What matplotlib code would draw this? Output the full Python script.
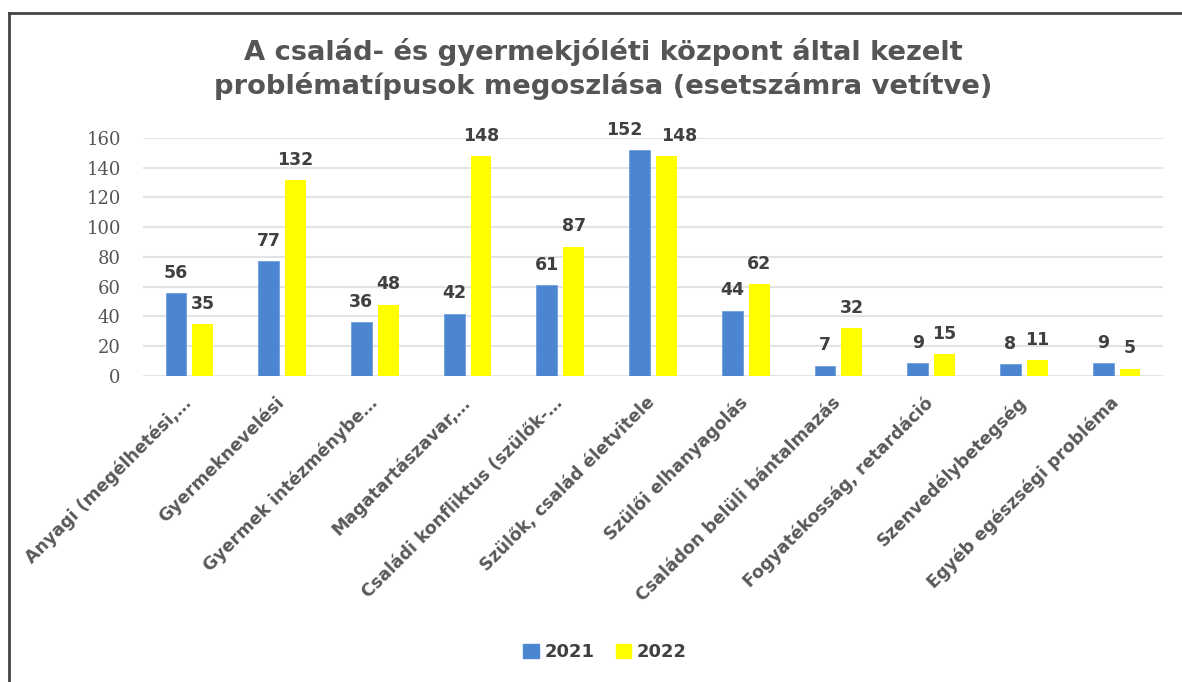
import matplotlib
matplotlib.use("Agg")
import matplotlib.pyplot as plt
import matplotlib.transforms as mtransforms
import numpy as np
from matplotlib.lines import Line2D

categories = [
    "Anyagi (megélhetési,…",
    "Gyermeknevelési",
    "Gyermek intézménybe…",
    "Magatartászavar,…",
    "Családi konfliktus (szülők-…",
    "Szülők, család életvitele",
    "Szülői elhanyagolás",
    "Családon belüli bántalmazás",
    "Fogyatékosság, retardáció",
    "Szenvedélybetegség",
    "Egyéb egészségi probléma",
]
v2021 = [56, 77, 36, 42, 61, 152, 44, 7, 9, 8, 9]
v2022 = [35, 132, 48, 148, 87, 148, 62, 32, 15, 11, 5]
yticks = [0, 20, 40, 60, 80, 100, 120, 140, 160]

blue = "#4C86D1"
yellow = "#FFFF00"
txt = "#404040"

fig = plt.figure(figsize=(11.82, 6.82), dpi=100)
ax = fig.add_axes([143/1182, 1 - 376/682, (1163-143)/1182, (376-138)/682])

x = np.arange(len(categories))
w = 0.225
gap = 0.032
b1 = ax.bar(x - w/2 - gap, v2021, w, color=blue, edgecolor="#6F9FDD", linewidth=0.6, label="2021", zorder=3)
b2 = ax.bar(x + w/2 + gap, v2022, w, color=yellow, label="2022", zorder=3)

# nudge labels apart where two equal-ish bars sit side by side (as Excel does)
for i, (r1, r2, a, b) in enumerate(zip(b1, b2, v2021, v2022)):
    dx1, dx2 = 0, 0
    if abs(a - b) < 8 and a > 20:
        dx1, dx2 = -11, 9
    for r, v, dx in ((r1, a, dx1), (r2, b, dx2)):
        ax.annotate(str(v), (r.get_x() + r.get_width()/2, v), xytext=(dx, 8),
                    textcoords="offset points", ha="center", va="bottom",
                    fontsize=12.5, fontweight="bold", color=txt)

ax.set_xlim(-0.5, len(categories) - 0.5)
ax.set_ylim(0, 160)
ax.set_yticks(yticks)
ax.set_yticklabels([str(t) for t in yticks], family="DejaVu Serif", fontsize=13, color="#555555")
ax.tick_params(axis="y", length=0, pad=16)
ax.tick_params(axis="x", length=0, pad=4)
ax.set_xticks(x)
ax.set_xticklabels(categories, rotation=45, ha="right", rotation_mode="anchor",
                   fontsize=12.5, fontweight="bold", color="#595959")
shift = mtransforms.ScaledTranslation(-7/100, -12/100, fig.dpi_scale_trans)
for lbl in ax.get_xticklabels():
    lbl.set_transform(lbl.get_transform() + shift)
ax.yaxis.grid(True, color="#E3E3E3", linewidth=1.5, zorder=0)
for s in ax.spines.values():
    s.set_visible(False)

fig.text(603/1182, 1 - 69/682, "A család- és gyermekjóléti központ által kezelt\nproblématípusok megoszlása (esetszámra vetítve)",
         ha="center", va="center", fontsize=19.7, fontweight="bold", color="#555555", linespacing=1.3)

handles = [plt.Rectangle((0, 0), 1, 1, color=blue), plt.Rectangle((0, 0), 1, 1, color=yellow)]
fig.legend(handles, ["2021", "2022"], loc="center", bbox_to_anchor=(605/1182, 1 - 652/682),
           ncol=2, frameon=False, handlelength=0.85, handleheight=0.85,
           handletextpad=0.3, columnspacing=1.2, prop={"weight": "bold", "size": 13})
for t in fig.legends[0].get_texts():
    t.set_color(txt)

# frame lines (top and left) like the screenshot border
fig.add_artist(Line2D([9/1182, 1], [1 - 13/682, 1 - 13/682], transform=fig.transFigure, color="#444444", linewidth=2))
fig.add_artist(Line2D([9/1182, 9/1182], [0, 1 - 13/682], transform=fig.transFigure, color="#444444", linewidth=2))

fig.savefig("out.png", dpi=100)
